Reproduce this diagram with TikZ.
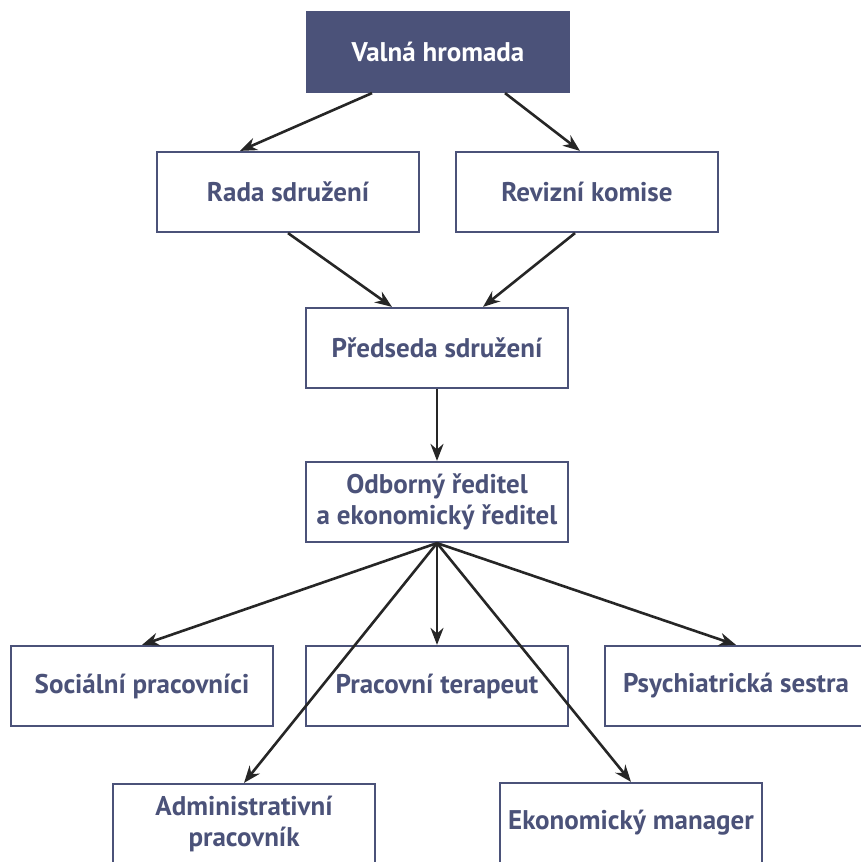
\documentclass[tikz,border=0pt]{standalone}
\usepackage{fontspec}
\setmainfont{PT Sans}
\usetikzlibrary{arrows.meta}
\definecolor{navy}{HTML}{4B5279}

\begin{document}
\begin{tikzpicture}[x=1pt, y=-1pt,
    box/.style = {draw=navy, line width=2.2pt, minimum width=262pt,
        minimum height=80pt, text=navy, align=center,
        font=\bfseries\fontsize{27}{31}\selectfont},
    head/.style = {box, fill=navy, text=white},
    link/.style = {-{Stealth[length=17pt,width=13pt]}, line width=2.6pt,
        black!85}]
\useasboundingbox (0,0) rectangle (861,862);
\clip (0,0) rectangle (861,862);

\node[head] (valna) at (438,52) {Valná hromada};
\node[box] (rada) at (288,192) {Rada sdružení};
\node[box] (revize) at (587,192) {Revizní komise};
\node[box] (predseda) at (437,348) {Předseda sdružení};
\node[box] (reditel) at (437,502) {Odborný ředitel\\a ekonomický ředitel};

\node[box] (socialni) at (142,686) {Sociální pracovníci};
\node[box] (terapeut) at (437,686) {Pracovní terapeut};
\node[box] (sestra) at (736,686) {Psychiatrická sestra};
\node[box] (admin) at (244,824) {Administrativní\\pracovník};
\node[box] (manager) at (631,823) {Ekonomický manager};

\draw[link] ([xshift=-66pt]valna.south) -- ([xshift=-48pt]rada.north);
\draw[link] ([xshift=67pt]valna.south) -- ([xshift=-7pt]revize.north);
\draw[link] (rada.south) -- ([xshift=-45pt]predseda.north);
\draw[link] ([xshift=-12pt]revize.south) -- ([xshift=46pt]predseda.north);
\draw[link] (predseda) -- (reditel);

\foreach \n in {socialni, terapeut, sestra, admin, manager}
    \draw[link] (reditel.south) -- (\n.north);
\end{tikzpicture}
\end{document}
